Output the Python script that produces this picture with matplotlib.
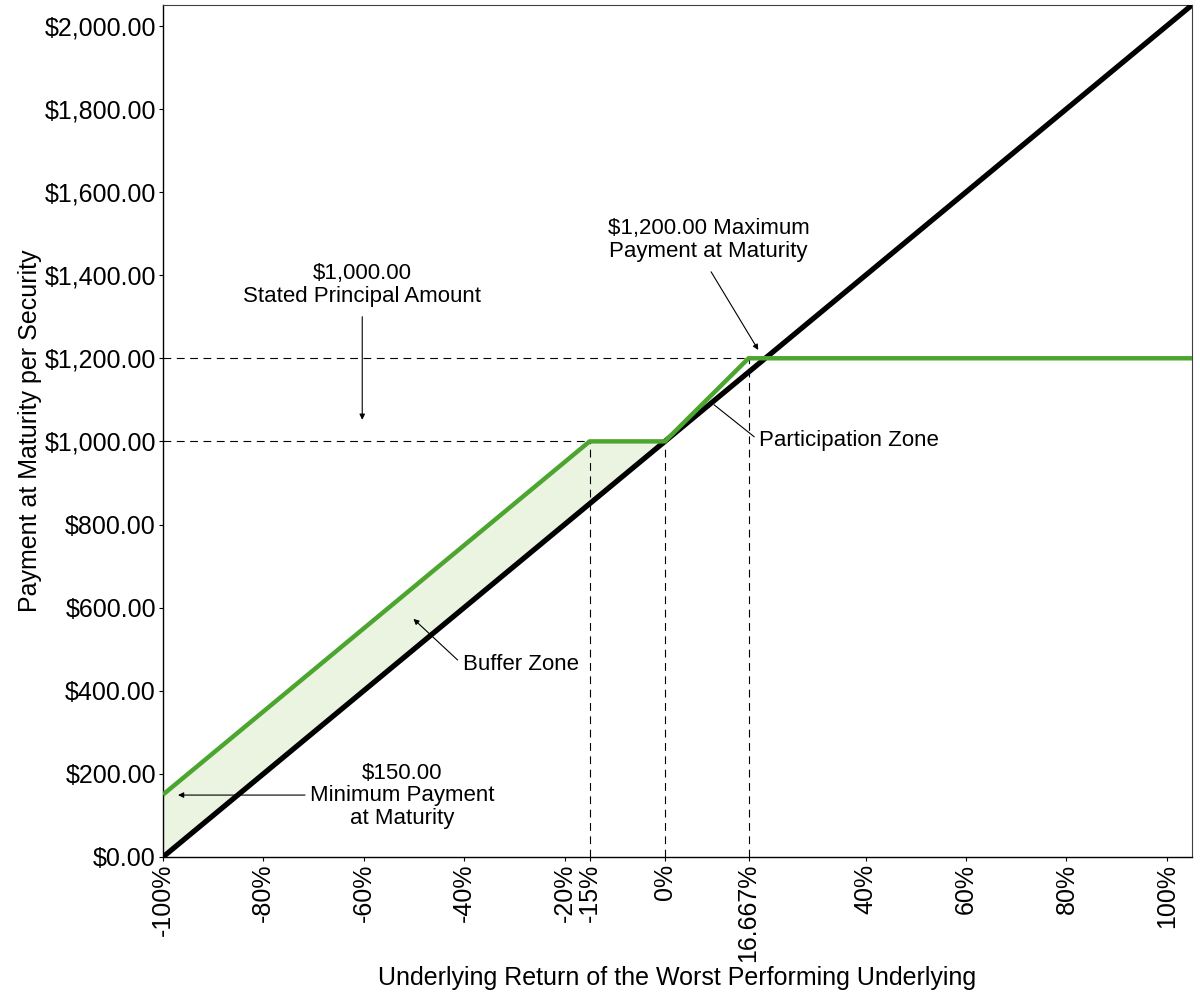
import matplotlib.pyplot as plt
import numpy as np

plt.rcParams['font.family'] = ['Liberation Sans', 'DejaVu Sans']

# datos del grafico (rendimiento en %, pago en $)
x_subyacente = [-100, 105]
pago_subyacente = [0, 2050]

x_nota = [-100, -15, 0, 16.667, 105]
pago_nota = [150, 1000, 1000, 1200, 1200]

x_ticks = [-100, -80, -60, -40, -20, -15, 0, 16.667, 40, 60, 80, 100]
x_tick_labels = ['-100%', '-80%', '-60%', '-40%', '-20%', '-15%', '0%', '16.667%',
                 '40%', '60%', '80%', '100%']
y_ticks = list(range(0, 2001, 200))

verde = '#4ca52f'
relleno = '#ebf3e1'

fig = plt.figure(figsize=(12, 10), dpi=100)
ax = fig.add_axes([0.1358, 0.143, 0.8575, 0.852])

# zona buffer sombreada
xb = np.array([-100, -15, 0])
yb_nota = np.interp(xb, x_nota, pago_nota)
yb_sub = np.interp(xb, x_subyacente, pago_subyacente)
ax.fill_between(xb, yb_sub, yb_nota, color=relleno, lw=0, zorder=1)

# lineas de referencia punteadas
ref = dict(color='black', lw=0.8, dashes=(7, 5), zorder=2)
ax.plot([-100, 16.667], [1200, 1200], **ref)
ax.plot([-100, -15], [1000, 1000], **ref)
ax.plot([-15, -15], [0, 1000], **ref)
ax.plot([0, 0], [0, 1000], **ref)
ax.plot([16.667, 16.667], [0, 1200], **ref)

ax.plot(x_subyacente, pago_subyacente, color='black', lw=3.8, solid_capstyle='butt', zorder=3)
ax.plot(x_nota, pago_nota, color=verde, lw=3.2, solid_capstyle='butt', zorder=4)

flecha = dict(arrowstyle='-|>', color='black', lw=0.8, mutation_scale=8, shrinkA=0, shrinkB=0)
linea = dict(arrowstyle='-', color='black', lw=0.8, shrinkA=0, shrinkB=0)
fs = 16

ax.text(-60.3, 1377, '$1,000.00\nStated Principal Amount', ha='center', va='center',
        fontsize=fs, linespacing=1.1)
ax.annotate('', xy=(-60.3, 1052), xytext=(-60.3, 1300), arrowprops=flecha)

ax.text(8.7, 1485, '$1,200.00 Maximum\nPayment at Maturity', ha='center', va='center',
        fontsize=fs, linespacing=1.1)
ax.annotate('', xy=(18.6, 1220), xytext=(9.2, 1408), arrowprops=flecha)

ax.text(18.8, 1001, 'Participation Zone', ha='left', va='center', fontsize=fs)
ax.annotate('', xy=(9.8, 1088), xytext=(17.8, 1011), arrowprops=linea)

ax.text(-40.3, 462, 'Buffer Zone', ha='left', va='center', fontsize=fs)
ax.annotate('', xy=(-50.1, 573), xytext=(-41.3, 474), arrowprops=flecha)

ax.text(-52.3, 147, '$150.00\nMinimum Payment\nat Maturity', ha='center', va='center',
        fontsize=fs, linespacing=1.1)
ax.annotate('', xy=(-97.0, 149), xytext=(-71.7, 149), arrowprops=flecha)

ax.set_xlim(-100, 105)
ax.set_ylim(0, 2050)
ax.set_xticks(x_ticks)
ax.set_xticklabels(x_tick_labels, rotation=90, fontsize=18)
ax.set_yticks(y_ticks)
ax.set_yticklabels([f'${v:,.2f}' for v in y_ticks], fontsize=18)
ax.tick_params(length=3, width=0.8, pad=2)

for lado in ['top', 'right']:
    ax.spines[lado].set_color('#404040')
    ax.spines[lado].set_linewidth(0.8)
for lado in ['left', 'bottom']:
    ax.spines[lado].set_linewidth(1.0)

ax.set_xlabel('Underlying Return of the Worst Performing Underlying', fontsize=18, labelpad=3)
ax.set_ylabel('Payment at Maturity per Security', fontsize=18, labelpad=2)

fig.savefig('out.png', dpi=100)
